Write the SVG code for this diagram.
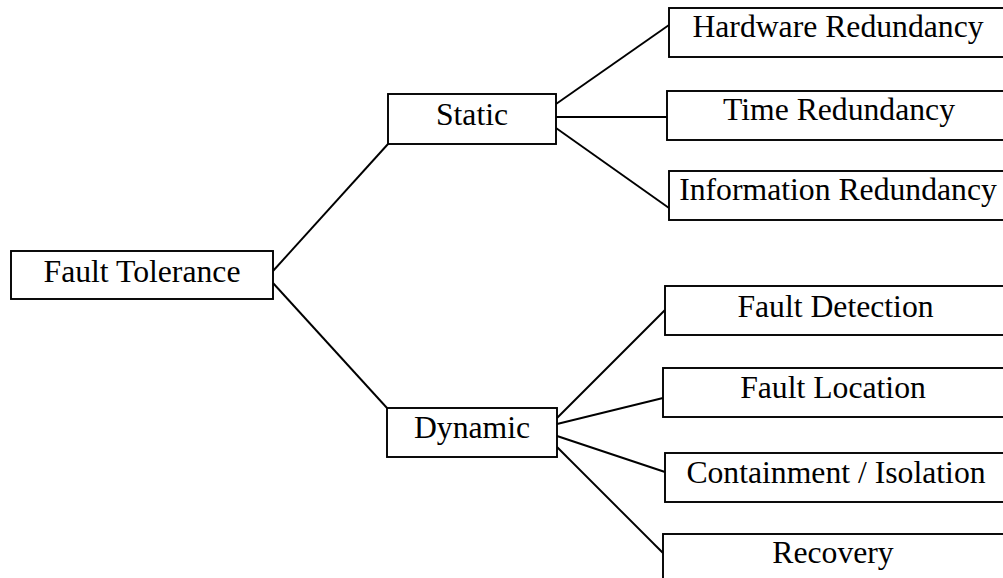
<svg xmlns="http://www.w3.org/2000/svg" width="1003" height="578" viewBox="0 0 1003 578">
<style>
.box{fill:#fff;stroke:#000;stroke-width:1.9}
.lbl{font-family:"Liberation Serif","Times New Roman",serif;font-size:31.7px;fill:#000;text-anchor:middle}
.conn line{stroke:#000;stroke-width:1.9}
</style>
<rect width="1003" height="578" fill="#fff"/>
<g id="connectors" class="conn">
<line x1="273" y1="271" x2="388" y2="144"/>
<line x1="273" y1="283" x2="387" y2="408"/>
<line x1="556" y1="104" x2="669" y2="25"/>
<line x1="556" y1="117" x2="667" y2="117"/>
<line x1="556" y1="128" x2="669" y2="208"/>
<line x1="557" y1="418" x2="665" y2="310"/>
<line x1="557" y1="424" x2="663" y2="398"/>
<line x1="557" y1="436" x2="665" y2="472"/>
<line x1="557" y1="447" x2="663" y2="553"/>
</g>
<g id="fault-tolerance"><rect class="box" x="11" y="251" width="262" height="48"/><text class="lbl" x="142" y="282">Fault Tolerance</text></g>
<g id="static"><rect class="box" x="388" y="94" width="168" height="50"/><text class="lbl" x="472" y="125">Static</text></g>
<g id="dynamic"><rect class="box" x="387" y="408" width="170" height="49"/><text class="lbl" x="472" y="438">Dynamic</text></g>
<g id="hardware-redundancy"><rect class="box" x="669" y="8" width="345" height="49"/><text class="lbl" x="838" y="37">Hardware Redundancy</text></g>
<g id="time-redundancy"><rect class="box" x="667" y="91" width="347" height="49"/><text class="lbl" x="839" y="120">Time Redundancy</text></g>
<g id="information-redundancy"><rect class="box" x="669" y="171" width="345" height="49"/><text class="lbl" x="838" y="200">Information Redundancy</text></g>
<g id="fault-detection"><rect class="box" x="665" y="286" width="349" height="49"/><text class="lbl" x="835.5" y="317">Fault Detection</text></g>
<g id="fault-location"><rect class="box" x="663" y="368" width="351" height="49"/><text class="lbl" x="833" y="398">Fault Location</text></g>
<g id="containment-isolation"><rect class="box" x="665" y="453" width="349" height="49"/><text class="lbl" x="836" y="483">Containment / Isolation</text></g>
<g id="recovery"><rect class="box" x="663" y="534" width="351" height="60"/><text class="lbl" x="833" y="563">Recovery</text></g>
</svg>
